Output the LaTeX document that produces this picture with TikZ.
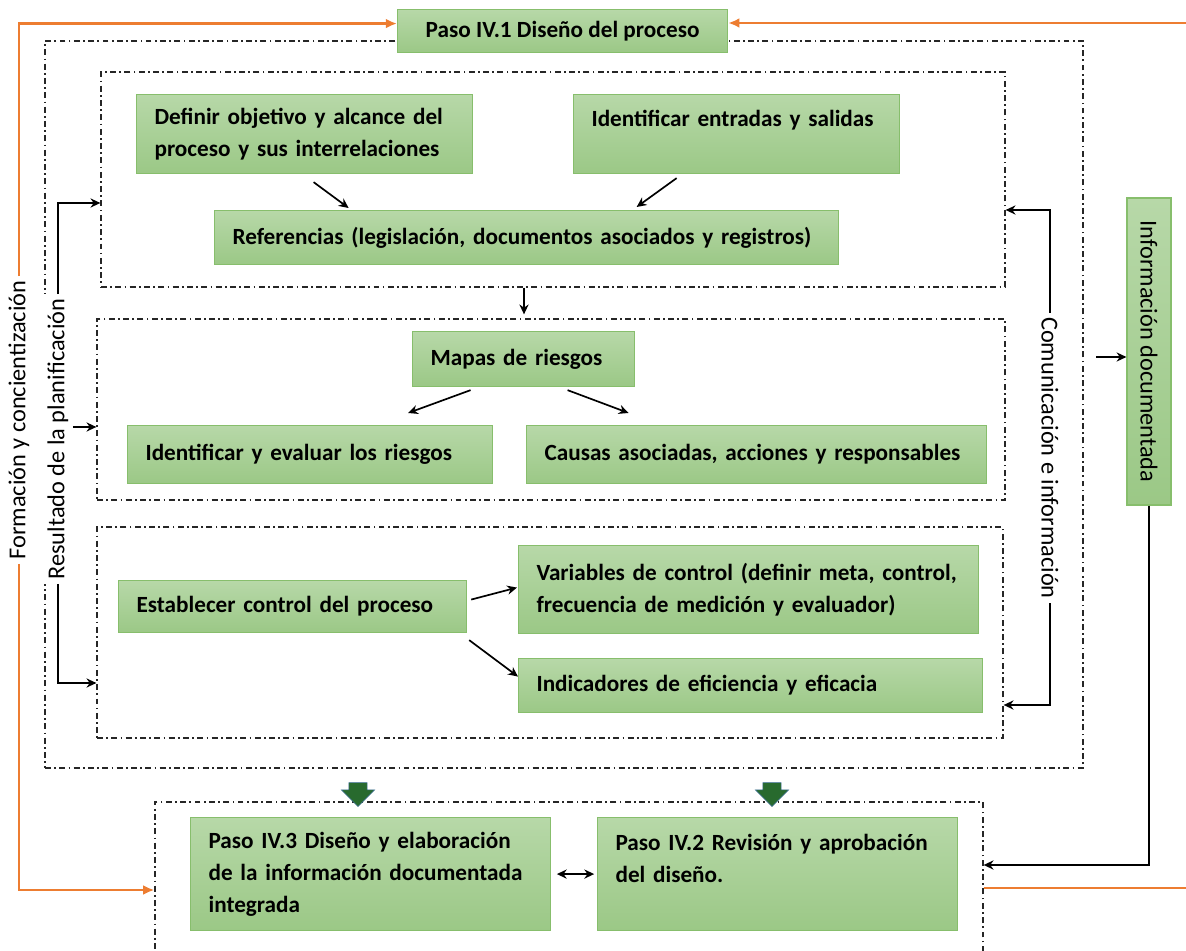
\documentclass[tikz,border=0pt]{standalone}
\usepackage{fontspec}
\setmainfont{Carlito}
\usetikzlibrary{positioning, fit, shapes.arrows, arrows.meta}

\definecolor{gtop}{RGB}{183,216,168}
\definecolor{gbot}{RGB}{155,200,134}
\definecolor{gline}{RGB}{135,190,108}
\definecolor{orng}{RGB}{237,125,49}
\definecolor{darkg}{RGB}{40,106,46}
\definecolor{blueedge}{RGB}{65,113,156}

\begin{document}
\begin{tikzpicture}[x=0.025cm, y=-0.025cm,
    gbox/.style={rectangle, draw=gline, line width=0.8pt, top color=gtop, bottom color=gbot, font=\fontsize{16.5}{22.8}\selectfont\bfseries, align=left, inner xsep=0.45cm, inner ysep=0pt, anchor=north west},
    grp/.style={draw=black!85, line width=0.9pt, dash pattern=on 4.2pt off 2.4pt on 1.2pt off 2.4pt, inner sep=0pt},
    side/.style={fill=white, font=\fontsize{17.3}{20}\selectfont, inner sep=3pt},
    arr/.style={-{Stealth[length=7pt, width=6.5pt]}, line width=1.2pt},
    oarr/.style={-{Latex[length=8pt, width=7pt]}, draw=orng, line width=2pt},
    blockarr/.style={single arrow, shape border rotate=270, fill=darkg, draw=blueedge, line width=0.4pt, minimum height=0.6cm, minimum width=0.82cm, single arrow head extend=0.19cm, inner xsep=0.22cm, inner ysep=0pt}]

\useasboundingbox (0,0) rectangle (1186,951);

% dash-dot groups
\node[grp, fit={(45,41) (1083,768)}] (g0) {};
\node[grp, fit={(101,72) (1005,287)}] (g1) {};
\node[grp, fit={(97,319) (1005,500)}] (g2) {};
\node[grp, fit={(97,527) (1003,738)}] (g3) {};
\node[grp, fit={(155,802) (983,970)}] (g4) {};

% green boxes
\node[gbox, minimum width=8.25cm, minimum height=1.075cm, align=center] (p1) at (397,9) {Paso IV.1 Diseño del proceso};
\node[gbox, text width=7.5cm, minimum height=1.975cm] (def) at (136,94) {Definir objetivo y alcance del\\proceso y sus interrelaciones};
\node[gbox, text width=7.25cm, minimum height=1.975cm] (ent) at (573,94) {Identificar entradas y salidas\\\mbox{}};
\node[gbox, text width=14.7cm, minimum height=1.35cm] (ref) at (214,210) {Referencias (legislación, documentos asociados y registros)};
\node[gbox, text width=4.65cm, minimum height=1.375cm] (map) at (412,331) {Mapas de riesgos};
\node[gbox, text width=8.225cm, minimum height=1.45cm] (ide) at (127,425) {Identificar y evaluar los riesgos};
\node[gbox, text width=10.6cm, minimum height=1.45cm] (cau) at (526,425) {Causas asociadas, acciones y responsables};
\node[gbox, text width=7.8cm, minimum height=1.3cm] (est) at (118,580) {Establecer control del proceso};
\node[gbox, text width=10.6cm, minimum height=2.2cm] (var) at (518,545) {Variables de control (definir meta, control,\\frecuencia de medición y evaluador)};
\node[gbox, text width=10.7cm, minimum height=1.35cm] (ind) at (518,658) {Indicadores de eficiencia y eficacia};
\node[gbox, text width=8.1cm, minimum height=2.825cm] (p3) at (190,817) {Paso IV.3 Diseño y elaboración\\de la información documentada\\integrada};
\node[gbox, text width=8.1cm, minimum height=2.825cm] (p2) at (597,817) {Paso IV.2 Revisión y aprobación\\del diseño.\\\mbox{}};
\node[gbox, font=\fontsize{17.3}{20}\selectfont, align=center, minimum width=7.675cm, minimum height=1.1cm, rotate=-90, anchor=center] (inf) at (1149,351.5) {Información documentada};

% side labels
\node[side, rotate=90] (for) at (19,420) {Formación y concientización};
\node[side, rotate=90] (res) at (58,439) {Resultado de la planificación};
\node[side, rotate=-90] (com) at (1050,458) {Comunicación e información};

% block arrows
\node[blockarr] (ba1) at (358,790) {};
\node[blockarr] (ba2) at (772,790) {};

% connectors
\draw[arr] ([shift={(9,8)}]def.south) -- ([shift={(-178,-2)}]ref.north);
\draw[arr] ([shift={(-60,4)}]ent.south) -- ([shift={(110,-3)}]ref.north);
\draw[arr] ([shift={(-29,0)}]g1.south) -- ([shift={(-27,-4)}]g2.north);
\draw[arr] ([shift={(-53,3)}]map.south) -- ([shift={(98,-12)}]ide.north);
\draw[arr] ([shift={(44,3)}]map.south) -- ([shift={(-128,-12)}]cau.north);
\draw[arr] ([shift={(4,-7)}]est.east) -- ([shift={(-1,-2)}]var.west);
\draw[arr] ([shift={(2,7)}]est.south east) -- ([shift={(0,-9)}]ind.west);
\draw[{Stealth[length=7pt, width=6.5pt]}-{Stealth[length=7pt, width=6.5pt]}, line width=1.2pt, shorten <=4pt, shorten >=2pt] (p3.east) -- (p2.west);

\coordinate (g2in) at ([shift={(0,17.5)}]g2.west);
\draw[arr] (res.east) |- ([shift={(0,23.5)}]g1.west);
\draw[arr] (res.south |- g2in) -- (g2in);
\draw[arr] (res.west) |- ([shift={(0,50.5)}]g3.west);
\draw[arr] (com.west) |- ([shift={(0,30.5)}]g1.east);
\draw[arr] (com.east) |- ([shift={(0,72.5)}]g3.east);
\draw[arr] ([shift={(-30,5.5)}]inf.south) -- ([shift={(0,5.5)}]inf.south);
\draw[arr] (inf.east) |- ([shift={(0,-21)}]g4.east);

% orange lines
\coordinate (rin) at (1186,23);
\coordinate (rout) at (1186,888);
\draw[oarr] (for.east) |- ([shift={(0,-7.5)}]p1.west);
\draw[oarr] (for.west) |- ([shift={(0,4)}]g4.west);
\draw[oarr] (rin) -- (rin -| p1.east);
\draw[orng, line width=2pt] (rout -| g4.east) -- (rout);
\end{tikzpicture}
\end{document}
